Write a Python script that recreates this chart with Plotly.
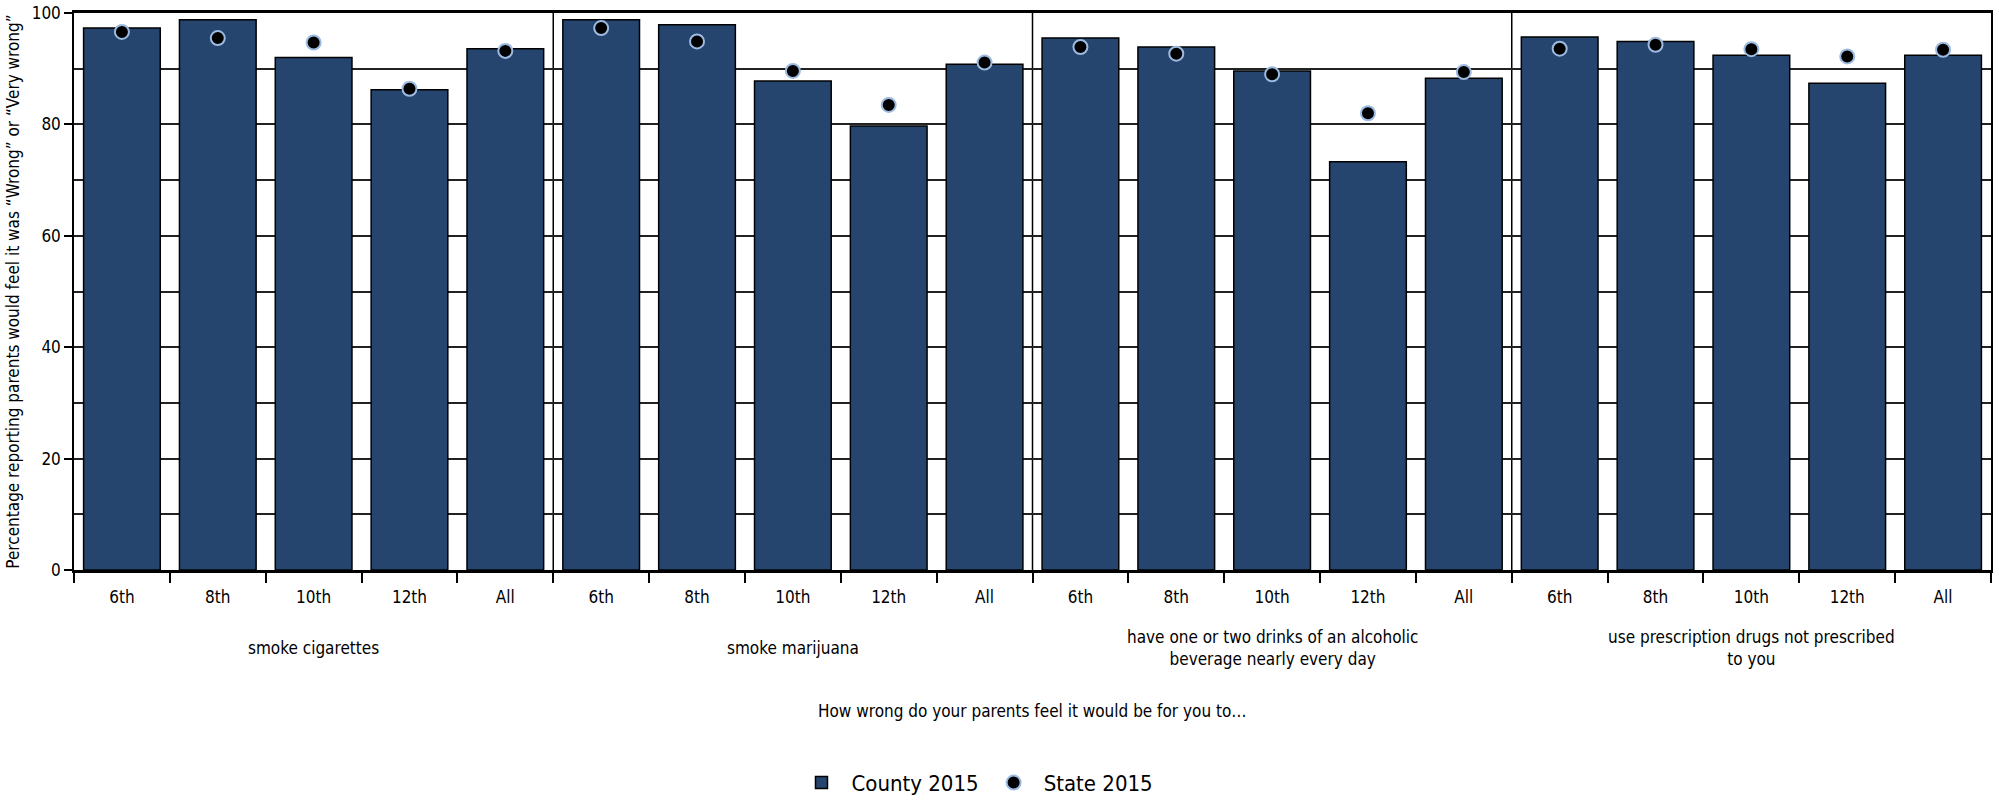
import plotly.graph_objects as go

groups = [
    "smoke cigarettes",
    "smoke marijuana",
    "have one or two drinks of an alcoholic<br>beverage nearly every day",
    "use prescription drugs not prescribed<br>to you",
]
grades = ["6th", "8th", "10th", "12th", "All"]
county_2015 = [97.3, 98.8, 92.0, 86.2, 93.6,
               98.8, 97.9, 87.8, 79.7, 90.8,
               95.5, 93.9, 89.6, 73.3, 88.3,
               95.7, 94.9, 92.4, 87.4, 92.4]
state_2015 = [96.6, 95.5, 94.7, 86.4, 93.2,
              97.3, 94.9, 89.6, 83.5, 91.1,
              93.9, 92.7, 89.0, 82.0, 89.4,
              93.6, 94.3, 93.5, 92.2, 93.4]
x_title = "How wrong do your parents feel it would be for you to…"
y_title = "Percentage reporting parents would feel it was “Wrong” or “Very wrong”"

FONT = "Liberation Sans Narrow, DejaVu Sans Condensed, Roboto Condensed, Arial Narrow, sans-serif"
BLUE = "#26456E"
FS = 17

n_g = len(grades)
x = list(range(len(county_2015)))
ticktext = [grades[i % n_g] for i in x]

fig = go.Figure()
fig.add_trace(go.Bar(
    x=x, y=county_2015, name="County 2015", width=0.8,
    marker=dict(color=BLUE, line=dict(color="black", width=1.5)),
))
fig.add_trace(go.Scatter(
    x=x, y=state_2015, name="State 2015", mode="markers",
    marker=dict(color="black", size=14, line=dict(color="#9dbbe0", width=2)),
))

# group separators
for g in range(1, len(groups)):
    b = g * n_g - 0.5
    fig.add_shape(type="line", xref="x", yref="y", x0=b, x1=b, y0=0, y1=100,
                  line=dict(color="black", width=1.5), layer="below")

# group labels
for gi, label in enumerate(groups):
    cx = sum(x[gi * n_g:(gi + 1) * n_g]) / n_g
    fig.add_annotation(x=cx, xref="x", y=0, yref="paper", yshift=-78,
                       text=label, showarrow=False, yanchor="middle",
                       font=dict(size=FS, family=FONT, color="black"))

fig.add_annotation(x=0.5, xref="paper", y=0, yref="paper", yshift=-141,
                   text=x_title, showarrow=False, yanchor="middle",
                   font=dict(size=FS, family=FONT, color="black"))

fig.update_layout(
    width=1999, height=801,
    margin=dict(l=74, r=8, t=13, b=231, autoexpand=False),
    paper_bgcolor="white", plot_bgcolor="white",
    font=dict(family=FONT, size=FS, color="black"),
    bargap=0.2,
    showlegend=True,
    legend=dict(orientation="h", x=0.47, xanchor="center", y=-0.382, yanchor="middle",
                font=dict(size=22, family=FONT), itemwidth=50, tracegroupgap=40),
    xaxis=dict(
        automargin=False,
        range=[-0.5, len(x) - 0.5],
        tickmode="array", tickvals=x, ticktext=ticktext,
        ticks="outside", ticklen=10, tickcolor="rgba(0,0,0,0)",
        showgrid=False, zeroline=False,
        showline=True, linecolor="black", linewidth=2.5, mirror=True,
        minor=dict(tickmode="array", tickvals=[i - 0.5 for i in range(len(x) + 1)],
                   ticks="outside", ticklen=10, tickcolor="black", tickwidth=1.5,
                   showgrid=False),
        tickfont=dict(size=FS, family=FONT),
    ),
    yaxis=dict(
        automargin=False,
        range=[0, 100], dtick=20, tick0=0,
        ticks="outside", ticklen=8, tickcolor="black", tickwidth=1.5,
        showgrid=True, gridcolor="#222222", gridwidth=1.5,
        minor=dict(dtick=10, showgrid=True, gridcolor="#222222", gridwidth=1.5),
        zeroline=False,
        showline=True, linecolor="black", linewidth=1.5, mirror=True,
        title=dict(text=y_title, font=dict(size=FS, family=FONT), standoff=8),
        tickfont=dict(size=FS, family=FONT),
    ),
)

fig.write_html("out.html",
               config={"displayModeBar": False},
               post_script="document.body.style.margin='0px';document.body.style.overflow='hidden';")
